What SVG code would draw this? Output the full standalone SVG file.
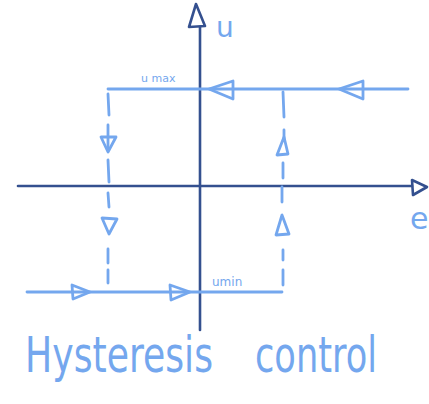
<svg xmlns="http://www.w3.org/2000/svg" width="429" height="404" viewBox="0 0 429 404">
<style>
.axis{stroke:#34508f;stroke-width:2.6;fill:none;stroke-linecap:round;stroke-linejoin:round}
.ln{stroke:#74a7ee;stroke-width:2.8;fill:none;stroke-linecap:round;stroke-linejoin:round}
.lbl{fill:#74a7ee;font-family:"DejaVu Sans","Liberation Sans",sans-serif}
.title{fill:#74a7ee;font-family:"DejaVu Sans Condensed","DejaVu Sans",sans-serif;font-size:38px;font-weight:300}
</style>
<rect width="429" height="404" fill="#ffffff"/>
<g id="axes">
<g id="u-axis">
<line class="axis" x1="200" y1="27" x2="200" y2="330"/>
<polygon class="axis" points="196,4 189,27 205,26"/>
</g>
<g id="e-axis">
<line class="axis" x1="18" y1="186" x2="412" y2="186"/>
<polygon class="axis" points="412,180 427,187 413,195"/>
</g>
</g>
<g id="connectors">
<g id="umax-line">
<line class="ln" x1="108" y1="89" x2="408" y2="89"/>
<polygon class="ln" points="209,89 233,81 233,99"/>
<polygon class="ln" points="339,89 363,81 363,99"/>
</g>
<g id="umin-line">
<line class="ln" x1="27" y1="292" x2="282" y2="292"/>
<polygon class="ln" points="90,292 72,285 73,299"/>
<polygon class="ln" points="190,292 170,285 171,300"/>
</g>
<g id="left-dashed">
<line class="ln" x1="108" y1="94" x2="109" y2="115"/>
<line class="ln" x1="108" y1="125" x2="108" y2="150"/>
<polygon class="ln" points="108,152 101,137 116,137"/>
<line class="ln" x1="108" y1="160" x2="109" y2="182"/>
<line class="ln" x1="108" y1="193" x2="109" y2="207"/>
<polygon class="ln" points="109,234 102,218 117,219"/>
<line class="ln" x1="108" y1="249" x2="108" y2="263"/>
<line class="ln" x1="108" y1="270" x2="108" y2="283"/>
</g>
<g id="right-dashed">
<line class="ln" x1="283" y1="92" x2="284" y2="117"/>
<line class="ln" x1="284" y1="130" x2="284" y2="140"/>
<polygon class="ln" points="284,137 277,155 288,154"/>
<line class="ln" x1="283" y1="163" x2="283" y2="178"/>
<line class="ln" x1="282" y1="187" x2="282" y2="202"/>
<polygon class="ln" points="282,215 276,235 289,234"/>
<line class="ln" x1="283" y1="250" x2="283" y2="260"/>
<line class="ln" x1="283" y1="270" x2="283" y2="285"/>
</g>
</g>
<g id="labels">
<text class="lbl" x="216" y="37" font-size="28">u</text>
<text class="lbl" x="410" y="229" font-size="30">e</text>
<text class="lbl" x="141" y="82" font-size="11">u max</text>
<text class="lbl" x="212" y="286" font-size="12">umin</text>
<text class="title" transform="translate(25,372) scale(1,1.3)" x="0" y="0" textLength="188" lengthAdjust="spacingAndGlyphs">Hysteresis</text>
<text class="title" transform="translate(255,372) scale(1,1.3)" x="0" y="0" textLength="122" lengthAdjust="spacingAndGlyphs">control</text>
</g>
</svg>
